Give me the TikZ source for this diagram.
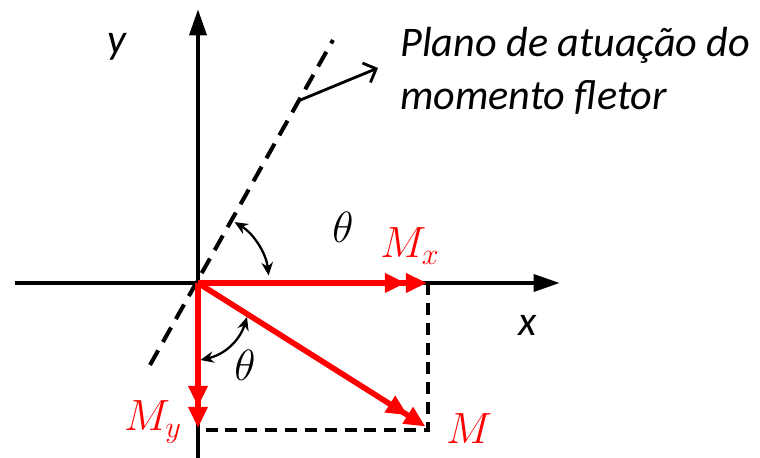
\documentclass[tikz,border=0pt]{standalone}
\usepackage{fontspec}
\setmainfont{Carlito}
\usetikzlibrary{arrows.meta}

\tikzset{
  eixo/.style={line width=2.5pt,-{Triangle[length=15pt,width=9.5pt]}},
  vetor/.style={red,line width=3.2pt,
    -{Triangle[length=12pt,width=10.5pt]Triangle[length=12pt,width=10.5pt]}},
  proj/.style={line width=2.2pt,dash pattern=on 6.8pt off 4.5pt},
  plano/.style={line width=2.3pt,dash pattern=on 9.5pt off 5.5pt},
  angulo/.style={line width=1.3pt,
    {Stealth[length=7.5pt,width=6.5pt]}-{Stealth[length=7.5pt,width=6.5pt]}},
  rotulo/.style={font=\fontsize{24}{28}\selectfont\itshape},
  mat/.style={font=\fontsize{24}{28}\selectfont},
}

\begin{document}
\begin{tikzpicture}
    \useasboundingbox (-3.96,-3.5) rectangle (11.24,5.66);
    \coordinate (O) at (0,0);
    \coordinate (Mx) at (4.58,0);
    \coordinate (My) at (0,-2.9);
    \coordinate (M) at (4.55,-2.87);
    \coordinate (C) at (4.6,-2.94);
    % eixos
    \draw[eixo] (-3.66,0)--(7.24,0);
    \draw[eixo] (0,-3.6)--(0,5.48);
    % plano de atuacao
    \draw[plano] (-0.96,-1.64)--(2.7,4.86);
    \draw[line width=1.6pt,-{Straight Barb[length=6pt,width=12pt]}] (2.05,3.66)--(3.6,4.3);
    % projecoes
    \draw[proj] (4.6,0)--(C)--(0,-2.94);
    % vetores
    \draw[vetor] (O)--(Mx);
    \draw[vetor] (O)--(My);
    \draw[vetor] (O)--(M);
    % angulos
    \draw[angulo] (6:1.42) arc (6:59:1.42);
    \draw[angulo] (0.98,-0.68) to[bend left=30] (0.05,-1.54);
    % rotulos
    \node[rotulo] (ly) at (-1.62,4.72) {y};
    \node[rotulo] (lx) at (6.6,-0.84) {x};
    \node[mat] (t1) at (2.9,1.12) {$\theta$};
    \node[mat] (t2) at (0.94,-1.64) {$\theta$};
    \node[mat,text=red] (lMx) at (4.24,0.74) {$M_x$};
    \node[mat,text=red] (lMy) at (-0.9,-2.78) {$M_y$};
    \node[mat,text=red] (lM) at (5.42,-2.92) {$M$};
    \node[rotulo,anchor=base west,inner sep=0] (p1) at (4.04,4.52) {Plano de atuação do};
    \node[rotulo,anchor=base west,inner sep=0] (p2) at (4.04,3.46) {momento fletor};
\end{tikzpicture}
\end{document}
